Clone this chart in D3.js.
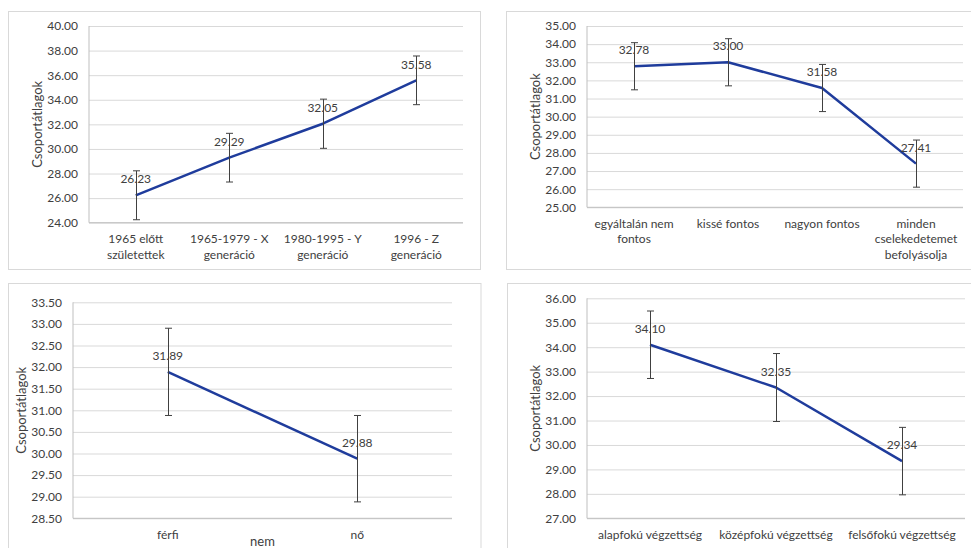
<!DOCTYPE html>
<html>
<head>
<meta charset="utf-8">
<script src="https://cdn.jsdelivr.net/npm/d3@7"></script>
<style>
  html, body { margin: 0; padding: 0; background: #fff; }
  svg { display: block; font-family: Lato, "Open Sans", sans-serif; }
</style>
</head>
<body>
<svg id="chart" width="971" height="548"></svg>
<script>
// ---- Data ----
const categories1 = [["1965 előtt", "születettek"], ["1965-1979 - X", "generáció"], ["1980-1995 - Y", "generáció"], ["1996 - Z", "generáció"]];
const values1 = [26.23, 29.29, 32.05, 35.58];
const errors1 = [1.99, 1.98, 2.00, 1.98];
const ticks1 = [24, 26, 28, 30, 32, 34, 36, 38, 40];

const categories2 = [["egyáltalán nem", "fontos"], ["kissé fontos"], ["nagyon fontos"], ["minden", "cselekedetemet", "befolyásolja"]];
const values2 = [32.78, 33.00, 31.58, 27.41];
const errors2 = [1.30, 1.30, 1.30, 1.30];
const ticks2 = [25, 26, 27, 28, 29, 30, 31, 32, 33, 34, 35];

const categories3 = [["férfi"], ["nő"]];
const values3 = [31.89, 29.88];
const errors3 = [1.01, 1.00];
const ticks3 = [28.5, 29, 29.5, 30, 30.5, 31, 31.5, 32, 32.5, 33, 33.5];

const categories4 = [["alapfokú végzettség"], ["középfokú végzettség"], ["felsőfokú végzettség"]];
const values4 = [34.10, 32.35, 29.34];
const errors4 = [1.38, 1.39, 1.38];
const ticks4 = [27, 28, 29, 30, 31, 32, 33, 34, 35, 36];

const yTitle = "Csoportátlagok";
const xTitle3 = "nem";

// ---- Layout ----
const panels = [
  { cats: categories1, vals: values1, errs: errors1, ticks: ticks1,
    box: [8.5, 11.5, 472, 258], plot: [89, 26, 463, 222.7] },
  { cats: categories2, vals: values2, errs: errors2, ticks: ticks2,
    box: [506.5, 11.5, 480, 258], plot: [587, 26, 963, 207.3] },
  { cats: categories3, vals: values3, errs: errors3, ticks: ticks3,
    box: [8.5, 283.5, 472.5, 280], plot: [73, 302.3, 452, 518.3], xTitle: xTitle3 },
  { cats: categories4, vals: values4, errs: errors4, ticks: ticks4,
    box: [507.5, 283.5, 480, 280], plot: [587, 298.3, 965, 518.3] }
];

const svg = d3.select("#chart");

panels.forEach(p => {
  const g = svg.append("g");
  // panel border
  g.append("rect")
    .attr("x", p.box[0]).attr("y", p.box[1])
    .attr("width", p.box[2]).attr("height", p.box[3])
    .attr("fill", "#fff").attr("stroke", "#d9d9d9").attr("stroke-width", 1);

  const [x0, y0, x1, y1] = p.plot;
  const labels = p.cats.map(c => c.join(" "));
  const x = d3.scaleBand().domain(labels).range([x0, x1]).paddingInner(0).paddingOuter(0);
  const y = d3.scaleLinear().domain([d3.min(p.ticks), d3.max(p.ticks)]).range([y1, y0]);
  const cx = i => x(labels[i]) + x.bandwidth() / 2;

  // gridlines
  const yAxis = d3.axisLeft(y).tickValues(p.ticks).tickSize(-(x1 - x0)).tickPadding(11)
    .tickFormat(d3.format(".2f"));
  const ya = g.append("g").attr("transform", `translate(${x0},0)`).call(yAxis);
  ya.select(".domain").remove();
  ya.selectAll(".tick line").attr("stroke", "#d9d9d9").attr("stroke-width", 1);
  ya.selectAll(".tick text").attr("fill", "#404040").style("font-size", "12px")
    .style("font-family", "Lato, sans-serif");

  // axis lines
  g.append("line").attr("x1", x0).attr("x2", x0).attr("y1", y0).attr("y2", y1)
    .attr("stroke", "#bfbfbf").attr("stroke-width", 1);
  g.append("line").attr("x1", x0).attr("x2", x1).attr("y1", y1).attr("y2", y1)
    .attr("stroke", "#bfbfbf").attr("stroke-width", 1);

  // category labels
  p.cats.forEach((c, i) => {
    const t = g.append("text").attr("x", cx(i)).attr("y", y1 + 20.5)
      .attr("text-anchor", "middle").attr("fill", "#404040").style("font-size", "12px");
    c.forEach((line, j) => {
      t.append("tspan").attr("x", cx(i)).attr("dy", j === 0 ? 0 : 15.5).text(line);
    });
  });

  // y title
  const ty = (y0 + y1) / 2;
  g.append("text").attr("transform", `translate(${x0 - 52},${ty}) rotate(-90)`)
    .attr("text-anchor", "middle").attr("dy", "0.35em").attr("fill", "#404040")
    .style("font-size", "13px").text(yTitle);

  if (p.xTitle) {
    g.append("text").attr("x", (x0 + x1) / 2).attr("y", 546)
      .attr("text-anchor", "middle").attr("fill", "#404040").style("font-size", "13px")
      .text(p.xTitle);
  }

  // line
  const line = d3.line().x((d, i) => cx(i)).y(d => y(d));
  g.append("path").datum(p.vals).attr("d", line)
    .attr("fill", "none").attr("stroke", "#1f3c9c").attr("stroke-width", 2.5)
    .attr("stroke-linejoin", "round");

  // data labels
  p.vals.forEach((v, i) => {
    g.append("text").attr("x", cx(i)).attr("y", y(v) - 16).attr("dy", "0.35em")
      .attr("text-anchor", "middle").attr("fill", "#404040").style("font-size", "12px")
      .text(d3.format(".2f")(v));
  });

  // error bars
  p.vals.forEach((v, i) => {
    const e = p.errs[i];
    const xc = Math.round(cx(i)) + 0.5;
    const eg = g.append("g").attr("stroke", "#404040").attr("stroke-width", 1);
    eg.append("line").attr("x1", xc).attr("x2", xc).attr("y1", y(v + e)).attr("y2", y(v - e));
    eg.append("line").attr("x1", xc - 3.5).attr("x2", xc + 3.5).attr("y1", y(v + e)).attr("y2", y(v + e));
    eg.append("line").attr("x1", xc - 3.5).attr("x2", xc + 3.5).attr("y1", y(v - e)).attr("y2", y(v - e));
  });
});
</script>
</body>
</html>
